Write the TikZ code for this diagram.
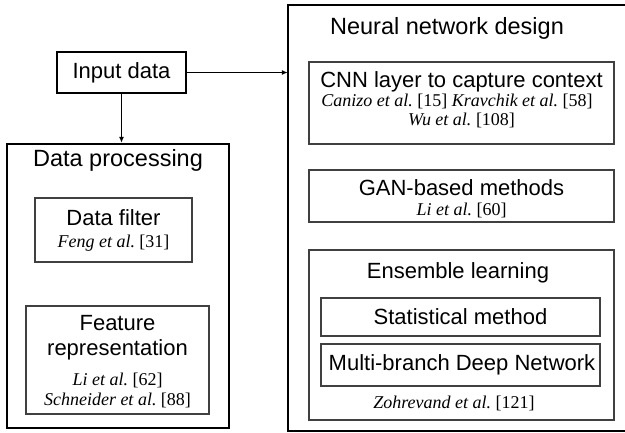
\documentclass[tikz,border=0pt]{standalone}
\usepackage{fontspec}
\setmainfont{Liberation Sans}
\newfontfamily\citefont{Liberation Serif}
\usetikzlibrary{arrows.meta}
\tikzset{
  thickbox/.style={draw=black, line width=2.2pt, inner sep=0pt},
  frame/.style={draw=black, line width=2.2pt},
  thinbox/.style={draw=black!75, line width=1.1pt, inner sep=0pt},
  lbl/.style={inner sep=0pt, font=\fontsize{22}{24}\selectfont},
  ttl/.style={inner sep=0pt, font=\fontsize{23.5}{26}\selectfont},
  cite/.style={inner sep=0pt, font=\fontsize{18}{20}\citefont},
  conn/.style={draw=black, line width=1.2pt, -{Latex[length=6pt,width=5pt]}}
}
\begin{document}
\begin{tikzpicture}[x=1pt,y=-1pt]
\useasboundingbox (0,0) rectangle (625,432);
\clip (0,0) rectangle (625,432);
% Input data
\node[thickbox, minimum width=129pt, minimum height=41pt] (in) at (121.5,72.5) {};
\node[lbl] (intxt) at (121.5,72.5) {Input data};
% Data processing
\node[thickbox, minimum width=222pt, minimum height=284pt] (dp) at (118,286) {};
\node[ttl] (dpt) at (118,160) {Data processing};
\node[thinbox, minimum width=157pt, minimum height=64pt] (df) at (113.5,230) {};
\node[lbl] (dft) at (113.5,218) {Data filter};
\node[cite] (dfc) at (113.5,243) {\itshape Feng et al.\upshape\ [31]};
\node[thinbox, minimum width=183pt, minimum height=108pt] (fr) at (117.5,360) {};
\node[lbl] (frt1) at (117.5,323) {Feature};
\node[lbl] (frt2) at (117.5,350) {representation};
\node[cite] (frc1) at (117.5,380) {\itshape Li et al.\upshape\ [62]};
\node[cite] (frc2) at (117.5,400) {\itshape Schneider et al.\upshape\ [88]};
% Neural network design (frame cut off at the right edge)
\node[inner sep=0pt, minimum width=352pt, minimum height=426pt] (nn) at (464,218) {};
\draw[frame] (nn.north east) -- (nn.north west) -- (nn.south west) -- (nn.south east);
\node[ttl] (nnt) at (447,28) {Neural network design};
\node[thinbox, minimum width=305pt, minimum height=82pt] (cnn) at (461.5,103) {};
\node[lbl] (cnnt) at (461.5,82) {CNN layer to capture context};
\node[cite] (cnnc1) at (457,101) {\itshape Canizo et al.\upshape\ [15] \itshape Kravchik et al.\upshape\ [58]};
\node[cite] (cnnc2) at (461.5,120) {\itshape Wu et al.\upshape\ [108]};
\node[thinbox, minimum width=305pt, minimum height=52pt] (gan) at (461.5,196) {};
\node[lbl] (gant) at (461.5,188) {GAN-based methods};
\node[cite] (ganc) at (461.5,210) {\itshape Li et al.\upshape\ [60]};
\node[thinbox, minimum width=305pt, minimum height=170pt] (ens) at (461.5,335) {};
\node[lbl] (enst) at (458,273) {Ensemble learning};
\node[thinbox, minimum width=279pt, minimum height=38pt] (stat) at (460.5,317) {};
\node[lbl] (statt) at (460.5,317) {Statistical method};
\node[thinbox, minimum width=279pt, minimum height=42pt] (mb) at (460.5,365) {};
\node[lbl] (mbt) at (462,365) {Multi-branch Deep Network};
\node[cite] (ensc) at (454,403) {\itshape Zohrevand et al.\upshape\ [121]};
% connectors
\draw[conn] (in.south) -- (in.south |- dp.north);
\draw[conn] (in.east) -- (in.east -| nn.west);
\end{tikzpicture}
\end{document}
